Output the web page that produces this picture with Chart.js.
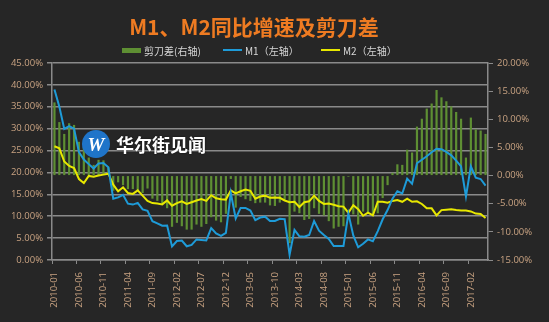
<!DOCTYPE html>
<html>
<head>
<meta charset="utf-8">
<script src="https://cdn.jsdelivr.net/npm/chart.js@4.4.0/dist/chart.umd.min.js"></script>
<style>
  html, body { margin: 0; padding: 0; background: #262626; }
  #wrap { position: relative; width: 549px; height: 322px; }
  #title { position: absolute; top: 11px; left: 0; width: 508px; text-align: center; line-height: 26px;
           font: bold 21px "Noto Sans CJK SC", sans-serif; color: #ee7b22; }
  #legend { position: absolute; top: 43px; left: 0; width: 549px; height: 14px;
            font: 10px "Noto Sans CJK SC", sans-serif; color: #d6d6d6; }
  .item { position: absolute; top: 0; height: 14px; display: flex; align-items: center; white-space: nowrap; }
  .mark { width: 19px; margin-right: 3px; }
  #wm { position: absolute; left: 82px; top: 130px; display: flex; align-items: center; }
  #wm .logo { width: 28px; height: 28px; border-radius: 50%; background: #1f74c9; color: #fff;
              font: italic bold 19px "Liberation Serif", serif; text-align: center; line-height: 29px; }
  #wm span { margin-left: 6px; font: bold 18px "Noto Sans CJK SC", sans-serif; color: #fff;
             text-shadow: 0 0 2px rgba(0,0,0,0.7); }
</style>
</head>
<body>
<div id="wrap">
  <canvas id="chart" width="549" height="322"></canvas>
  <div id="title">M1、M2同比增速及剪刀差</div>
  <div id="legend"></div>
  <div id="wm"><div class="logo">W</div><span>华尔街见闻</span></div>
</div>
<script>
// monthly, 2010-01 .. 2017-05
const months = [];
for (let y = 2010; y <= 2017; y++) {
    for (let m = 1; m <= 12; m++) {
        if (y === 2017 && m > 5) break;
        months.push(y + '-' + String(m).padStart(2, '0'));
    }
}

// M1 yoy, %
const m1 = [
    38.96, 34.99, 29.94, 30.6, 29.99, 24.64, 22.96, 21.9, 20.89, 22.07, 22.17, 21.19,
    14.0, 14.3, 14.9, 12.86, 12.66, 13.06, 11.57, 11.23, 8.88, 8.36, 7.83, 7.85,
    3.08, 4.33, 4.44, 3.14, 3.45, 4.7, 4.59, 4.48, 7.3, 6.08, 5.5, 6.2,
    15.3, 9.5, 11.9, 11.9, 11.3, 9.1, 9.7, 9.9, 8.9, 8.9, 9.4, 9.3,
    1.2, 6.9, 5.4, 5.3, 5.7, 8.9, 6.7, 5.7, 4.8, 3.2, 3.2, 3.2,
    10.6, 5.6, 2.9, 3.7, 4.7, 4.3, 6.6, 9.3, 11.4, 14.0, 15.7, 15.2,
    18.6, 17.4, 22.1, 22.9, 23.7, 24.6, 25.4, 25.3, 24.7, 23.9, 22.7, 21.4,
    14.5, 21.4, 18.8, 18.5, 17.0
];

// M2 yoy, %
const m2 = [
    25.98, 25.52, 22.5, 21.48, 21.0, 18.5, 17.6, 19.2, 19.0, 19.3, 19.5, 19.72,
    17.2, 15.7, 16.6, 15.3, 15.1, 15.9, 14.7, 13.5, 13.0, 12.9, 12.7, 13.6,
    12.4, 13.0, 13.4, 12.8, 13.2, 13.6, 13.9, 13.5, 14.8, 14.1, 13.9, 13.8,
    15.9, 15.2, 15.7, 16.1, 15.8, 14.0, 14.5, 14.7, 14.2, 14.3, 14.2, 13.6,
    13.2, 13.3, 12.1, 13.2, 13.4, 14.7, 13.5, 12.8, 12.9, 12.6, 12.3, 12.2,
    10.8, 12.5, 11.6, 10.1, 10.8, 10.2, 13.3, 13.3, 13.1, 13.5, 13.7, 13.3,
    14.0, 13.3, 13.4, 12.8, 11.8, 11.8, 10.2, 11.4, 11.5, 11.6, 11.4, 11.3,
    11.3, 11.1, 10.6, 10.5, 9.6
];

// M1 - M2, right axis
const scissors = [
    13.0, 9.5, 7.4, 9.3, 9.0, 6.0, 5.1, 3.2, 1.9, 2.8, 2.7, 1.5,
    -2.7, -1.2, -1.7, -2.4, -2.4, -2.8, -3.1, -2.3, -4.1, -4.5, -5.0, -5.8,
    -9.1, -8.4, -9.0, -9.6, -9.6, -8.7, -9.1, -8.6, -7.4, -8.0, -8.3, -6.8,
    -0.6, -5.7, -3.8, -4.2, -4.5, -4.9, -4.8, -4.8, -5.3, -5.4, -4.8, -4.3,
    -12.0, -6.4, -6.7, -7.9, -7.7, -5.8, -6.8, -7.1, -8.1, -9.4, -9.1, -9.0,
    -0.2, -6.9, -8.7, -6.4, -6.8, -7.2, -6.7, -4.0, -1.7, 0.5, 2.0, 1.9,
    4.6, 4.1, 8.7, 10.1, 11.9, 12.8, 15.2, 13.9, 13.2, 12.3, 11.3, 10.1,
    3.2, 10.3, 8.2, 8.0, 7.4
];

const leftTicks = { min: 0, max: 45, step: 5 };
const rightTicks = { min: -15, max: 20, step: 5 };

const gridGray = '#8a8a8a';
const tickColor = '#c9a382';
const tickFont = { family: 'Open Sans', size: 9.5 };
const pct = v => v.toFixed(2) + '%';

const ctx = document.getElementById('chart').getContext('2d');
const chart = new Chart(ctx, {
    type: 'bar',
    data: {
        labels: months,
        datasets: [
            {
                type: 'line',
                label: 'M1（左轴）',
                data: m1,
                yAxisID: 'y',
                borderColor: '#1e9bd8',
                backgroundColor: '#1e9bd8',
                borderWidth: 2,
                pointRadius: 0,
                tension: 0,
                order: 1
            },
            {
                type: 'line',
                label: 'M2（左轴）',
                data: m2,
                yAxisID: 'y',
                borderColor: '#e8e800',
                backgroundColor: '#e8e800',
                borderWidth: 2,
                pointRadius: 0,
                tension: 0,
                order: 2
            },
            {
                type: 'bar',
                label: '剪刀差(右轴)',
                data: scissors,
                yAxisID: 'y2',
                backgroundColor: '#5e8f33',
                barPercentage: 0.45,
                categoryPercentage: 1,
                order: 3
            }
        ]
    },
    options: {
        responsive: false,
        animation: false,
        events: [],
        layout: { padding: { top: 63 } },
        plugins: {
            legend: { display: false },
            tooltip: { enabled: false }
        },
        scales: {
            x: {
                offset: true,
                grid: {
                    offset: true,
                    drawOnChartArea: false,
                    tickLength: 4,
                    color: c => c.index % 5 === 0 ? gridGray : 'rgba(0,0,0,0)'
                },
                border: { color: gridGray, width: 1.5 },
                ticks: {
                    autoSkip: false,
                    minRotation: 90,
                    maxRotation: 90,
                    padding: 8,
                    color: tickColor,
                    font: tickFont,
                    callback: (v, i) => i % 5 === 0 ? months[i] : ''
                },
                afterFit: s => { s.height = 62; }
            },
            y: {
                position: 'left',
                min: leftTicks.min,
                max: leftTicks.max,
                ticks: { stepSize: leftTicks.step, callback: pct, color: tickColor, font: tickFont, padding: 4 },
                grid: { color: gridGray, lineWidth: 1.5, tickLength: 5 },
                border: { color: gridGray, width: 1.5 },
                afterFit: s => { s.width = 52; }
            },
            y2: {
                position: 'right',
                min: rightTicks.min,
                max: rightTicks.max,
                ticks: { stepSize: rightTicks.step, callback: pct, color: tickColor, font: tickFont, padding: 4 },
                grid: { drawOnChartArea: false, color: gridGray, tickLength: 5 },
                border: { color: gridGray, width: 1.5 },
                afterFit: s => { s.width = 61; }
            }
        }
    }
});

// html legend, same order as the original: bars, M1, M2
const legendLeft = [122, 223, 321];
const legendEl = document.getElementById('legend');
[2, 0, 1].forEach((di, k) => {
    const ds = chart.data.datasets[di];
    const item = document.createElement('div');
    item.className = 'item';
    item.style.left = legendLeft[k] + 'px';
    const mark = document.createElement('span');
    mark.className = 'mark';
    mark.style.height = ds.type === 'bar' ? '5px' : '2px';
    mark.style.background = ds.backgroundColor;
    const txt = document.createElement('span');
    txt.textContent = ds.label;
    item.appendChild(mark);
    item.appendChild(txt);
    legendEl.appendChild(item);
});
</script>
</body>
</html>
